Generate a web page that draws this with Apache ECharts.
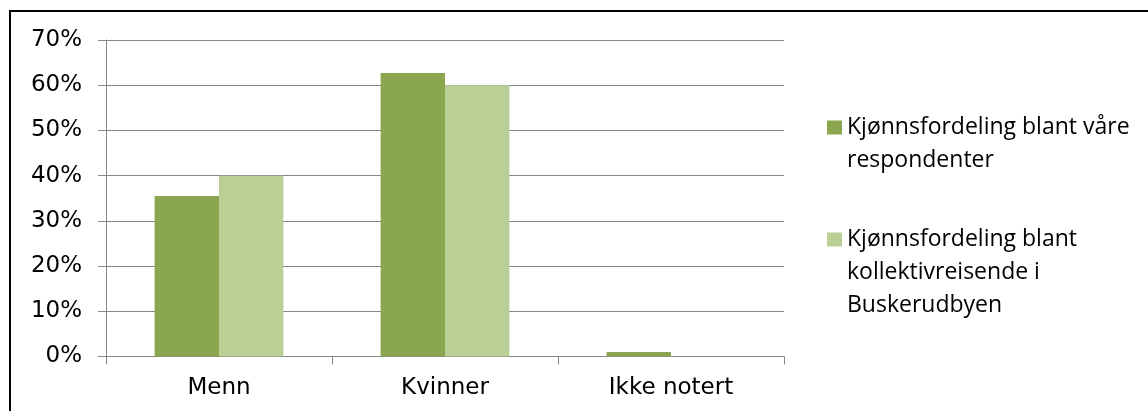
<!DOCTYPE html>
<html>
<head>
<meta charset="utf-8">
<script src="https://cdn.jsdelivr.net/npm/echarts@6/dist/echarts.min.js"></script>
<style>
html,body{margin:0;padding:0;background:#fff;}
#chart{width:1148px;height:411px;}
</style>
</head>
<body>
<div id="chart"></div>
<script>
const categories = ['Menn', 'Kvinner', 'Ikke notert'];
const seriesNames = ['Kjønnsfordeling blant våre respondenter', 'Kjønnsfordeling blant kollektivreisende i Buskerudbyen'];
const legendLabels = ['Kjønnsfordeling blant våre\nrespondenter', 'Kjønnsfordeling blant\nkollektivreisende i\nBuskerudbyen'];
const respondenter = [35.5, 62.7, 1.0];
const kollektivreisende = [40.0, 60.0, 0.0];
const yTicks = [0, 10, 20, 30, 40, 50, 60, 70];

const chart = echarts.init(document.getElementById('chart'), null, {renderer: 'canvas'});
const axisFont = 'DejaVu Sans, Verdana, sans-serif';
const legendFont = 'Open Sans, sans-serif';
const LH = 33;

// pad label with leading blank lines so the icon lines up with the first text line
function legendText(name) {
  const label = legendLabels[seriesNames.indexOf(name)];
  const n = label.split('\n').length;
  return '\n'.repeat(n - 1) + label;
}

chart.setOption({
  animation: false,
  backgroundColor: '#ffffff',
  graphic: [{
    type: 'rect',
    shape: {x: 10, y: 11, width: 1146, height: 420},
    style: {fill: 'none', stroke: '#000', lineWidth: 2},
    silent: true
  }],
  grid: {left: 106, right: 364, top: 40, bottom: 54.5, containLabel: false},
  legend: {
    orient: 'vertical',
    left: 827,
    top: 78,
    padding: 0,
    itemWidth: 15,
    itemHeight: 14,
    itemGap: -20,
    icon: 'rect',
    selectedMode: false,
    formatter: legendText,
    textStyle: {fontFamily: legendFont, fontSize: 23, color: '#000', lineHeight: LH},
    data: seriesNames
  },
  xAxis: {
    type: 'category',
    data: categories,
    axisLine: {show: true, lineStyle: {color: '#868686', width: 1}},
    axisTick: {show: true, alignWithLabel: false, length: 8, lineStyle: {color: '#868686'}},
    axisLabel: {fontFamily: axisFont, fontSize: 23, color: '#000', margin: 20},
    splitLine: {show: false}
  },
  yAxis: {
    type: 'value',
    min: yTicks[0],
    max: yTicks[yTicks.length - 1],
    interval: yTicks[1] - yTicks[0],
    axisLine: {show: true, lineStyle: {color: '#868686', width: 1}},
    axisTick: {show: true, length: 8, lineStyle: {color: '#868686'}},
    axisLabel: {fontFamily: axisFont, fontSize: 23, color: '#000', margin: 24, formatter: '{value}%'},
    splitLine: {show: true, lineStyle: {color: '#868686', width: 1}}
  },
  series: [
    {
      name: seriesNames[0], type: 'bar', data: respondenter,
      barGap: '0%', barCategoryGap: '43%',
      itemStyle: {color: '#8AA64F'}
    },
    {
      name: seriesNames[1], type: 'bar', data: kollektivreisende,
      barGap: '0%', barCategoryGap: '43%',
      itemStyle: {color: '#BACF96'}
    }
  ]
});
</script>
</body>
</html>
